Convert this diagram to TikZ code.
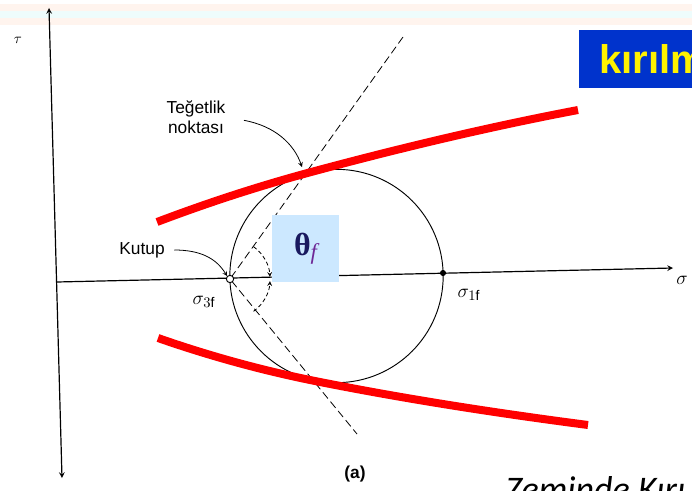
\documentclass[tikz,border=0pt]{standalone}
\usepackage{fontspec}
\setmainfont{Liberation Sans}
\newfontfamily\thetafont{Liberation Serif}
\newfontfamily\notefont{Carlito}
\definecolor{kirilmblue}{RGB}{0,51,204}
\definecolor{thetabox}{RGB}{204,232,255}
\definecolor{thetanavy}{RGB}{25,25,95}
\definecolor{fpurple}{RGB}{110,40,150}
\definecolor{bandpeach}{RGB}{255,244,238}
\definecolor{bandcyan}{RGB}{238,252,252}
\begin{document}
\begin{tikzpicture}[x=0.75pt, y=0.75pt, >=stealth,
  envelope/.style={red, line width=6pt},
  lbl/.style={inner sep=0pt, font=\fontsize{13}{15}\selectfont},
  siglbl/.style={inner sep=0pt, font=\fontsize{15}{17}\selectfont}]
\useasboundingbox (0,0) rectangle (692,490);
\clip (0,0) rectangle (692,490);
\fill[white] (0,0) rectangle (692,490);
% faint band at the top
\fill[bandpeach] (0,465) rectangle (692,486);
\fill[bandcyan] (0,472) rectangle (692,479);
% axes
\coordinate (tbot) at (62,12);
\coordinate (ttop) at (49,482);
\coordinate (sleft) at (57,208);
\coordinate (sright) at (673,222);
\draw[<->, line width=0.9pt] (tbot) -- (ttop);
\draw[->, line width=0.9pt] (sleft) -- (sright);
\node[lbl, font=\fontsize{11}{12}\selectfont] (tau) at (18,450) {$\tau$};
\node[siglbl] (sig) at (682,210) {$\sigma$};
% Mohr circle and pole
\coordinate (pole) at (230,211);
\coordinate (s1) at (443,217);
\coordinate (ctr) at (336.5,214);
\draw[line width=0.7pt] (ctr) circle (80pt);
\coordinate (dtop) at (403,453);
\coordinate (dbot) at (357,56);
\draw[dashed, dash pattern=on 6pt off 3pt, line width=0.6pt] (dtop) -- (pole) -- (dbot);
% failure envelope, touching the circle
\coordinate (tup) at (308.6,317.3);
\coordinate (tdown) at (315,109);
\draw[envelope] (157,268) .. controls (207,287) and (258.6,303.8) .. (tup)
  .. controls (398.6,341.6) and (488,362.9) .. (578,380);
\draw[envelope] (158,152) .. controls (210,133.8) and (263,119.4) .. (tdown)
  .. controls (405,91) and (498,76.7) .. (588,65);
% angle theta_f
\draw[densely dashed, ->, line width=0.6pt] ([shift={(54:30pt)}]pole) arc (54:3:30pt);
\draw[densely dashed, ->, line width=0.6pt] ([shift={(-54:30pt)}]pole) arc (-54:-3:30pt);
\node[circle, draw, fill=white, inner sep=0pt, minimum size=5.5pt, line width=0.7pt] (kutupdot) at (pole) {};
\fill (s1) circle (2.3pt);
\node[siglbl] (s3lbl) at (204,188) {$\sigma_{3\mathrm{f}}$};
\node[siglbl] (s1lbl) at (469,195) {$\sigma_{1\mathrm{f}}$};
% labels with arrows
\node[lbl, align=center] (teget) at (196,373) {Teğetlik\\noktası};
\coordinate (tgtip) at (302,323);
\draw[->, line width=0.6pt, shorten <=14pt] (teget.east) .. controls (275,364) and (294,346) .. (tgtip);
\node[lbl] (kutup) at (142,240) {Kutup};
\draw[->, line width=0.6pt, shorten <=7pt] (kutup.east) .. controls (200,240) and (216,232) .. (kutupdot.north west);
\node[lbl, font=\fontsize{13}{15}\selectfont\bfseries] (alabel) at (355,16) {(a)};
% boxes
\node[fill=thetabox, minimum width=50.25pt, minimum height=50.25pt, inner sep=0pt] (thetaf) at (305.5,241.5)
  {{\fontsize{24}{24}\selectfont\thetafont\bfseries\color{thetanavy}θ}{\fontsize{17}{17}\selectfont\thetafont\itshape\color{fpurple}\raisebox{-0.4ex}{f}}};
\fill[kirilmblue] (579,402) rectangle (700,460);
\node[anchor=base west, inner sep=0pt, text=yellow, font=\fontsize{30}{30}\selectfont\bfseries] (kirilm) at (599,416) {kırılm};
\node[anchor=base west, inner sep=0pt, font=\notefont\itshape\fontsize{27}{27}\selectfont] (zemin) at (505,-11) {Zeminde Kırı};
\end{tikzpicture}
\end{document}
